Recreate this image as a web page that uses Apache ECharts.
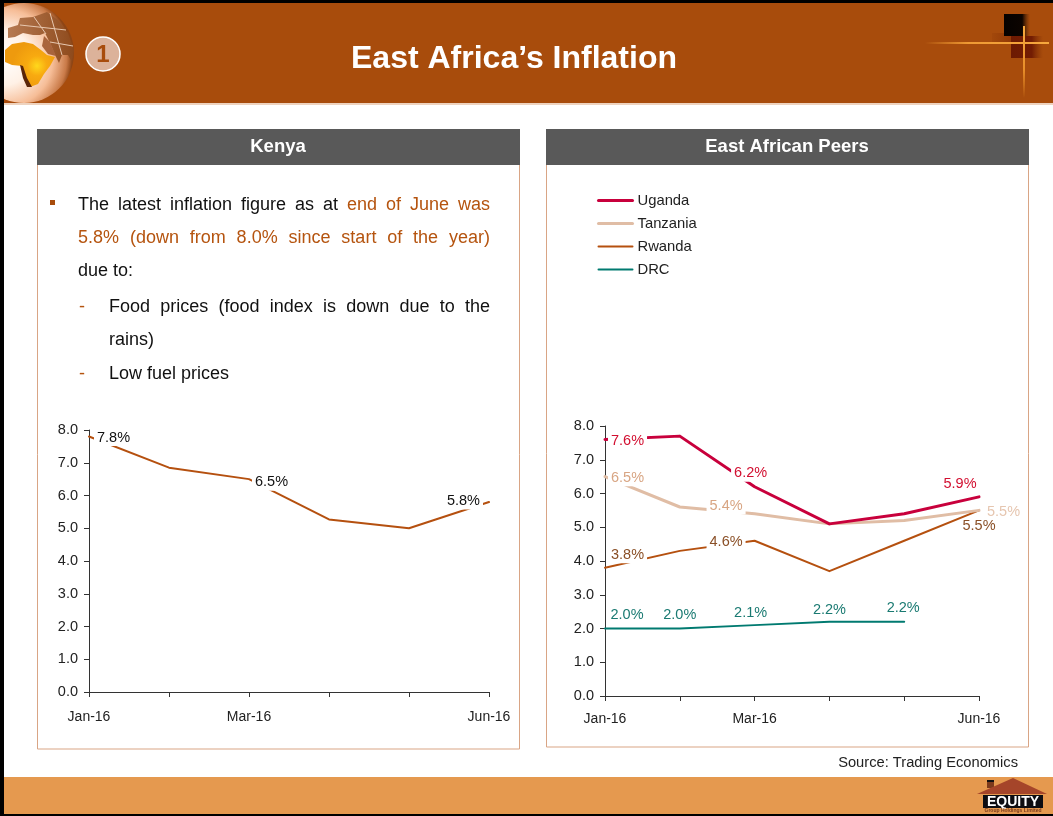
<!DOCTYPE html>
<html>
<head>
<meta charset="utf-8">
<title>East Africa's Inflation</title>
<script src="https://cdn.jsdelivr.net/npm/echarts@6/dist/echarts.min.js"></script>
<style>
  html, body { margin: 0; padding: 0; background: #fff; }
  #page { position: relative; width: 1053px; height: 816px; overflow: hidden; }
  #chart { position: absolute; left: 0; top: 0; width: 1053px; height: 816px; }
  .copy { position: absolute; font: 18px/33.5px "Liberation Sans", Arial, sans-serif; color: #111; }
  .copy.full { text-align: justify; text-align-last: justify; }
  .copy em { font-style: normal; color: #b5540f; }
  .dash { position: absolute; font: 18px/33.5px "Liberation Sans", Arial, sans-serif; color: #b5540f; }
</style>
</head>
<body>
<div id="page">
  <div id="chart"></div>
  <div class="copy full" style="left:78px;top:188px;width:412px;">The latest inflation figure as at <em>end of June was</em></div>
  <div class="copy full" style="left:78px;top:221px;width:412px;"><em>5.8% (down from 8.0% since start of the year)</em></div>
  <div class="copy" style="left:78px;top:254px;width:412px;">due to:</div>
  <div class="dash" style="left:79px;top:290px;">-</div>
  <div class="copy full" style="left:109px;top:290px;width:381px;">Food prices (food index is down due to the</div>
  <div class="copy" style="left:109px;top:323px;width:381px;">rains)</div>
  <div class="dash" style="left:79px;top:357px;">-</div>
  <div class="copy" style="left:109px;top:357px;width:381px;">Low fuel prices</div>
</div>
<script>
// Monthly inflation readings, per cent
const months = ['Jan-16', 'Feb-16', 'Mar-16', 'Apr-16', 'May-16', 'Jun-16'];
const shownMonths = ['Jan-16', 'Mar-16', 'Jun-16'];
const kenya = [7.8, 6.85, 6.5, 5.27, 5.0, 5.8];
const uganda = [7.6, 7.7, 6.2, 5.1, 5.4, 5.9];
const tanzania = [6.5, 5.6, 5.4, 5.1, 5.2, 5.5];
const rwanda = [3.8, 4.3, 4.6, 3.7, 4.6, 5.5];
const drc = [2.0, 2.0, 2.1, 2.2, 2.2, null];

const FONT = '"Liberation Sans", Arial, sans-serif';
const BROWN = '#a84c0c';
const PANEL_EDGE = '#d9a585';

// Turns a value list into series data, labelling only the points listed in `notes`.
function withNotes(values, notes) {
  return values.map((value, i) => {
    const note = notes[i];
    if (!note) return { value, label: { show: false } };
    const { plain, ...placement } = note;
    return {
      value,
      label: {
        show: true,
        formatter: p => p.value.toFixed(1) + '%',
        fontFamily: FONT,
        fontSize: 14.5,
        lineHeight: 15,
        backgroundColor: plain ? 'transparent' : '#fff',
        padding: plain ? 0 : [1, 3],
        ...placement
      }
    };
  });
}

function lineSeries(name, values, notes, color, width, axisIndex) {
  return {
    name,
    type: 'line',
    xAxisIndex: axisIndex,
    yAxisIndex: axisIndex,
    // Markers stay invisible; they only carry the point labels.
    symbol: 'circle',
    symbolSize: 2,
    showSymbol: true,
    showAllSymbol: true,
    clip: false,
    smooth: false,
    z: 5,
    data: withNotes(values, notes),
    lineStyle: { color, width, cap: 'round', join: 'round' },
    itemStyle: { color: 'transparent' },
    emphasis: { disabled: true }
  };
}

const axisInk = { lineStyle: { color: '#333', width: 1 } };

function categoryAxis(gridIndex, margin) {
  return {
    type: 'category',
    gridIndex,
    data: months,
    boundaryGap: false,
    z: 4,
    axisLine: { show: true, ...axisInk },
    axisTick: { show: true, interval: 0, length: 5, ...axisInk },
    axisLabel: {
      color: '#222', fontFamily: FONT, fontSize: 14, margin,
      interval: (i, name) => shownMonths.includes(name)
    }
  };
}

function valueAxis(gridIndex) {
  return {
    type: 'value',
    gridIndex,
    min: 0,
    max: 8,
    interval: 1,
    z: 4,
    splitLine: { show: false },
    axisLine: { show: true, ...axisInk },
    axisTick: { show: true, length: 5, ...axisInk },
    axisLabel: {
      color: '#222', fontFamily: FONT, fontSize: 14.5, margin: 11, padding: [4, 0, 0, 0],
      formatter: v => v.toFixed(1)
    }
  };
}

const LinearGradient = echarts.graphic.LinearGradient;
const RadialGradient = echarts.graphic.RadialGradient;

const rect = (x, y, width, height, fill, extra) =>
  ({ type: 'rect', shape: { x, y, width, height }, style: { fill }, silent: true, ...extra });
const label = (text, x, y, font, fill, align) =>
  ({ type: 'text', style: { text, x, y, font, fill, textAlign: align || 'center', textVerticalAlign: 'middle' }, silent: true, z: 20 });
const poly = (points, fill, z) =>
  ({ type: 'polygon', shape: { points }, style: { fill }, silent: true, z: z || 5 });
const stroke = (x1, y1, x2, y2, color, width, z) =>
  ({ type: 'line', shape: { x1, y1, x2, y2 }, style: { stroke: color, lineWidth: width }, silent: true, z: z || 6 });

// Globe emblem on the header band
const landBrown = new LinearGradient(0, 0, 1, 0, [
  { offset: 0, color: '#b67a52' }, { offset: 1, color: '#8e4a1c' }]);
const globe = [
  { type: 'circle', shape: { cx: 24, cy: 53, r: 50 }, silent: true, z: 4,
    style: { fill: new RadialGradient(0.3, 0.55, 0.68, [
      { offset: 0, color: '#ffffff' }, { offset: 0.4, color: '#fff1e6' },
      { offset: 0.72, color: '#f6bd97' }, { offset: 0.92, color: '#c97a48' },
      { offset: 1, color: '#8e4515' }]) } },
  poly([[8,28],[18,25],[20,18],[33,17],[47,12],[58,20],[68,33],[74,50],[72,62],[68,55],[62,55],[59,63],[55,55],[50,43],[45,33],[40,35],[33,35],[23,33],[15,37],[8,38]], landBrown),
  poly([[44,36],[50,42],[56,56],[48,54],[42,46]], '#a9643c'),
  poly([[5,50],[12,44],[24,42],[33,44],[41,50],[47,55],[55,57],[50,66],[44,74],[38,84],[30,87],[25,78],[22,66],[12,65],[5,62]], new RadialGradient(0.64, 0.53, 0.55, [
    { offset: 0, color: '#ffd81c' }, { offset: 0.4, color: '#f8aa10' }, { offset: 1, color: '#ee9a0e' }]), 6),
  poly([[20,65],[23,66],[27,78],[32,87],[27,87],[23,78]], '#5a2508', 7),
  stroke(34, 17, 46, 34, '#e8c8b0', 1), stroke(50, 13, 62, 55, '#e8c8b0', 1),
  stroke(20, 25, 66, 30, '#e8c8b0', 1), stroke(50, 42, 73, 46, '#e8c8b0', 1),
  { type: 'circle', shape: { cx: 103, cy: 54, r: 17 }, silent: true, z: 8,
    style: { fill: '#dcb29a', stroke: '#fff', lineWidth: 1.5 } },
  label('1', 103, 55, 'bold 24px ' + FONT, BROWN)
];

// Corner mark on the right of the header band
const cornerMark = [
  rect(1004, 14, 26, 22, new LinearGradient(0, 0, 1, 0, [
    { offset: 0, color: '#050200' }, { offset: 0.7, color: '#0c0400' }, { offset: 1, color: 'rgba(90,40,5,0)' }]), { z: 5 }),
  rect(992, 33, 26, 10, new LinearGradient(0, 0, 1, 0, [
    { offset: 0, color: 'rgba(140,55,5,0.2)' }, { offset: 1, color: '#8c3206' }]), { z: 4 }),
  rect(1011, 36, 32, 22, new LinearGradient(0, 0, 1, 0, [
    { offset: 0, color: '#6d1a02' }, { offset: 0.65, color: '#731d03' }, { offset: 1, color: 'rgba(130,50,5,0)' }]), { z: 5 }),
  rect(925, 42, 124, 2, new LinearGradient(0, 0, 1, 0, [
    { offset: 0, color: 'rgba(245,160,50,0)' }, { offset: 0.35, color: '#ef9a34' }, { offset: 1, color: '#f6a83e' }]), { z: 6 }),
  rect(1023, 26, 2, 72, new LinearGradient(0, 0, 0, 1, [
    { offset: 0, color: '#f6a83e' }, { offset: 0.6, color: '#e98f2a' }, { offset: 1, color: 'rgba(240,150,40,0)' }]), { z: 6 })
];

// Company mark on the footer band
const footerMark = [
  poly([[977,794],[1013,778],[1047,794]], '#a5452a', 6),
  rect(987, 780, 7, 8, '#7c3a1c', { z: 5 }),
  rect(987, 780, 7, 2, '#111', { z: 7 }),
  rect(983, 795, 60, 13, '#0d0d12', { z: 6 }),
  label('EQUITY', 1013, 802, 'bold 14px ' + FONT, '#fff'),
  label('Group Holdings Limited', 1013, 811, 'bold 5px ' + FONT, '#7a3a1c')
];

const edge = { style: { fill: 'none', stroke: PANEL_EDGE, lineWidth: 1 }, z: 1 };
const panels = [
  rect(37.5, 160, 482, 589, 'none', edge),
  rect(546.5, 160, 482, 587, 'none', edge),
  rect(37, 129, 483, 36, '#595959', { z: 2 }),
  rect(546, 129, 483, 36, '#595959', { z: 2 }),
  label('Kenya', 278, 147, 'bold 18.5px ' + FONT, '#fff'),
  label('East African Peers', 787, 147, 'bold 18.5px ' + FONT, '#fff'),
  rect(50, 200, 5, 5, BROWN, { z: 3 })
];

const bands = [
  rect(0, 0, 1053, 103, BROWN, { z: 0 }),
  rect(0, 103, 1053, 2, '#eed3bf', { z: 0 }),
  rect(0, 777, 1053, 39, '#e5994f', { z: 0 }),
  rect(0, 0, 1053, 3, '#000', { z: 30 }),
  rect(0, 0, 4, 816, '#000', { z: 30 }),
  rect(0, 814, 1053, 2, '#000', { z: 30 }),
  label('East Africa\u2019s Inflation', 514, 59, 'bold 32px ' + FONT, '#fff'),
  label('Source: Trading Economics', 1018, 763, '14.7px ' + FONT, '#222', 'right')
];

const chart = echarts.init(document.getElementById('chart'), null, { renderer: 'canvas' });
chart.setOption({
  animation: false,
  backgroundColor: '#fff',
  graphic: { elements: [...bands, ...panels, ...globe, ...cornerMark, ...footerMark] },
  grid: [
    { left: 89, right: 564, top: 430, bottom: 124 },
    { left: 605, right: 74, top: 426, bottom: 120 }
  ],
  xAxis: [categoryAxis(0, 18), categoryAxis(1, 16)],
  yAxis: [valueAxis(0), valueAxis(1)],
  legend: {
    show: true,
    data: ['Uganda', 'Tanzania', 'Rwanda', 'DRC'],
    orient: 'vertical',
    left: 597,
    top: 193,
    padding: 0,
    itemWidth: 34,
    itemHeight: 14,
    itemGap: 8,
    selectedMode: false,
    lineStyle: { width: 'inherit' },
    textStyle: { fontFamily: FONT, fontSize: 14.8, color: '#222' }
  },
  series: [
    lineSeries('Kenya', kenya, {
      0: { position: 'right', distance: 4, offset: [0, 1], color: '#111' },
      2: { position: 'right', distance: 2, offset: [0, 3], color: '#111' },
      5: { position: 'left', distance: 5, offset: [0, -1], color: '#111' }
    }, '#b5500f', 2, 0),
    lineSeries('Rwanda', rwanda, {
      0: { position: 'right', distance: 2, offset: [0, -13], color: '#8a4f26' },
      2: { position: 'left', distance: 8, offset: [0, 1], color: '#8a4f26' },
      5: { position: 'bottom', distance: 7, plain: true, color: '#8a4f26' }
    }, '#b5500f', 2, 1),
    lineSeries('Tanzania', tanzania, {
      0: { position: 'right', distance: 2, offset: [0, 1], color: '#d8a583' },
      2: { position: 'left', distance: 8, offset: [0, -8], color: '#d8a583' },
      5: { position: 'right', distance: 7, offset: [0, 2], plain: true, color: '#e6c6b0' }
    }, '#e0bda5', 3, 1),
    lineSeries('Uganda', uganda, {
      0: { position: 'right', distance: 2, offset: [0, 1], color: '#d20f30' },
      2: { position: 'top', distance: 4, offset: [-4, 0], color: '#d20f30' },
      5: { position: 'top', distance: 4, offset: [-19, 0], plain: true, color: '#d20f30' }
    }, '#c8003c', 3, 1),
    lineSeries('DRC', drc, {
      0: { position: 'top', distance: 5, offset: [22, 0], plain: true, color: '#1a7a72' },
      1: { position: 'top', distance: 5, plain: true, color: '#1a7a72' },
      2: { position: 'top', distance: 4, offset: [-4, 0], plain: true, color: '#1a7a72' },
      3: { position: 'top', distance: 3, plain: true, color: '#1a7a72' },
      4: { position: 'top', distance: 5, offset: [-1, 0], plain: true, color: '#1a7a72' }
    }, '#007a70', 2, 1)
  ]
});
</script>
</body>
</html>
